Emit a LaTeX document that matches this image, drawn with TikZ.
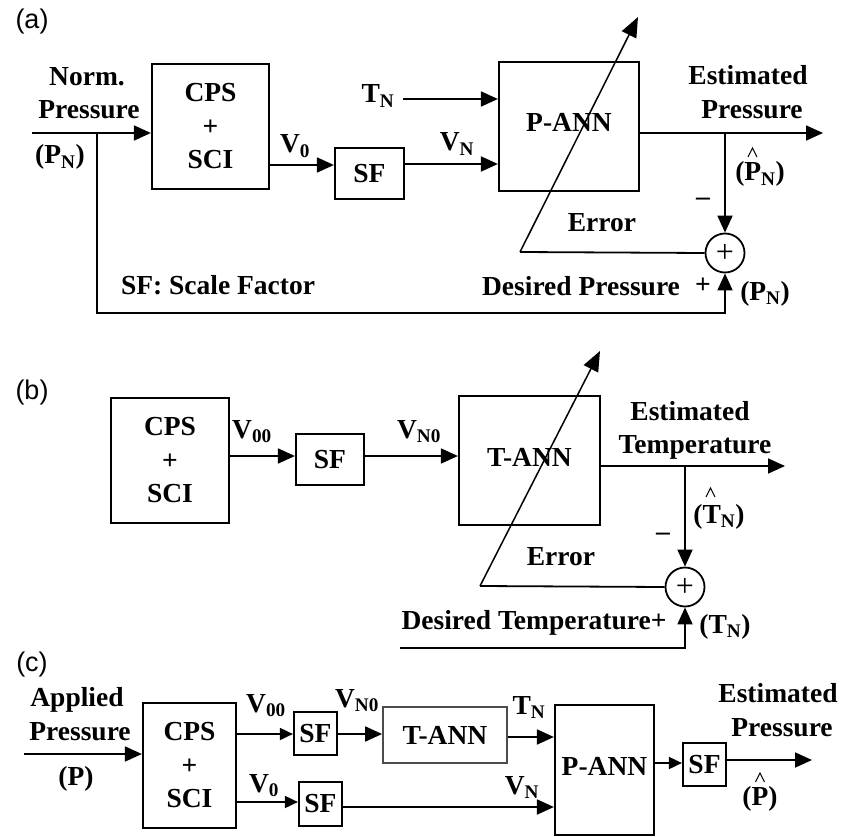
\documentclass[tikz,border=0pt]{standalone}
\usepackage{fontspec}
\setmainfont{Liberation Serif}
\newfontfamily\labfont{Liberation Sans}
\usetikzlibrary{arrows.meta}
\begin{document}
\begin{tikzpicture}[x=1pt,y=-1pt,
  font=\fontsize{27.5}{33.5}\selectfont\bfseries,
  blk/.style={draw,line width=2.2pt,inner sep=0pt,align=center},
  txt/.style={inner sep=0pt,text height=18pt,text depth=0pt},
  ln/.style={line width=1.8pt},
  arr/.style={ln,-{Triangle[length=17pt,width=15pt]}},
  sarr/.style={ln,-{Triangle[length=13pt,width=12pt]}},
  diag/.style={line width=1.5pt,-{Triangle[length=20pt,width=16pt]}},
  sumnode/.style={circle,draw,line width=1.8pt,minimum size=39pt,inner sep=0pt,font=\mdseries\fontsize{32}{32}\selectfont},
  hatline/.style={line width=1pt,line join=miter},
  plab/.style={inner sep=0pt,font=\fontsize{27}{27}\selectfont\labfont}
]
\useasboundingbox (0,0) rectangle (843,837);

% ---------------- (a) ----------------
\node[plab] (la) at (32,22) {(a)};
\node[blk,minimum width=117pt,minimum height=125pt] (cpsa) at (210.5,126.5) {CPS\\+\\SCI};
\node[blk,minimum width=69pt,minimum height=51pt] (sfa) at (369.5,173.5) {SF};
\node[blk,minimum width=140pt,minimum height=129pt] (panna) at (569,126.5) {\raisebox{8pt}{P-ANN}};
\node[sumnode] (suma) at (725,253) {+};

\coordinate (ina) at (32,133);
\coordinate (fba) at (97,133);
\coordinate (fbb) at (97,313);
\coordinate (tna) at (403,99);
\coordinate (outa) at (823,133);
\coordinate (jna) at (725,133);
\coordinate (erra) at (520,252);
\coordinate (tipa) at (638,17);

\draw[arr] (ina) -- (ina -| cpsa.west);
\draw[arr] (cpsa.east |- 0,165) -- (sfa.west |- 0,165);
\draw[arr] (sfa.east |- 0,164) -- (panna.west |- 0,164);
\draw[arr] (tna) -- (tna -| panna.west);
\draw[arr] (panna.east |- outa) -- (outa);
\draw[arr] (jna) -- (suma.north);
\draw[ln] (suma.west) -- (erra);
\draw[diag] (erra) -- (tipa);
\draw[arr] (fba) -- (fbb) -- (fbb -| suma.south) -- (suma.south);

\node[txt] (ta1) at (87,77) {Norm.};
\node[txt] (ta2) at (89,110) {Pressure};
\node[txt] (ta3) at (60,155) {(P\textsubscript{N})};
\node[txt] (ta4) at (295,144) {V\textsubscript{0}};
\node[txt] (ta5) at (378,94) {T\textsubscript{N}};
\node[txt] (ta6) at (457,142) {V\textsubscript{N}};
\node[txt] (ta7) at (748,76) {Estimated};
\node[txt] (ta8) at (752,110) {Pressure};
\node[txt] (ta9) at (760,172) {(P\textsubscript{N})};
\draw[hatline] (748,157) -- (752.5,148) -- (757,157);
\node[inner sep=0pt] (ta10) at (703,202) {\textendash};
\node[txt] (ta11) at (602,222) {Error};
\node[txt] (ta12) at (581,286.5) {Desired Pressure};
\node[inner sep=0pt] (ta13) at (703,286) {+};
\node[txt] (ta14) at (765,291) {(P\textsubscript{N})};
\node[txt] (ta15) at (218,285) {SF: Scale Factor};

% ---------------- (b) ----------------
\node[plab] (lb) at (32,393) {(b)};
\node[blk,minimum width=118pt,minimum height=125pt] (cpsb) at (170,460.5) {CPS\\+\\SCI};
\node[blk,minimum width=68pt,minimum height=51pt] (sfb) at (330,459.5) {SF};
\node[blk,minimum width=141pt,minimum height=129pt] (tannb) at (529.5,460.5) {\raisebox{7pt}{T-ANN}};
\node[sumnode] (sumb) at (685,587) {+};

\coordinate (outb) at (785,466);
\coordinate (jnb) at (685,466);
\coordinate (errb) at (480,586);
\coordinate (tipb) at (600,351);
\coordinate (fbs) at (400,648);

\draw[arr] (cpsb.east |- 0,456) -- (sfb.west |- 0,456);
\draw[arr] (sfb.east |- 0,456) -- (tannb.west |- 0,456);
\draw[arr] (tannb.east |- outb) -- (outb);
\draw[arr] (jnb) -- (sumb.north);
\draw[ln] (sumb.west) -- (errb);
\draw[diag] (errb) -- (tipb);
\draw[arr] (fbs) -- (fbs -| sumb.south) -- (sumb.south);

\node[txt] (tb1) at (252,429) {V\textsubscript{00}};
\node[txt] (tb2) at (419,429) {V\textsubscript{N0}};
\node[txt] (tb3) at (690,411) {Estimated};
\node[txt] (tb4) at (695,444) {Temperature};
\node[txt] (tb5) at (719,514) {(T\textsubscript{N})};
\draw[hatline] (706,497) -- (710.5,488) -- (715,497);
\node[inner sep=0pt] (tb6) at (663,537) {\textendash};
\node[txt] (tb7) at (561,556) {Error};
\node[txt] (tb8) at (534,620) {Desired Temperature+};
\node[txt] (tb9) at (725,624) {(T\textsubscript{N})};

% ---------------- (c) ----------------
\node[plab] (lc) at (32,665) {(c)};
\node[blk,minimum width=93pt,minimum height=125pt] (cpsc) at (189.5,765.5) {CPS\\+\\SCI};
\node[blk,minimum width=43pt,minimum height=43pt] (sfc1) at (315.5,733.5) {SF};
\node[blk,minimum width=43pt,minimum height=44pt] (sfc2) at (320.5,804) {SF};
\node[blk,draw=black!70,line width=1.8pt,minimum width=124pt,minimum height=56pt] (tannc) at (445,735) {T-ANN};
\node[blk,minimum width=99pt,minimum height=130pt] (pannc) at (604.5,770) {\raisebox{7pt}{P-ANN}};
\node[blk,minimum width=43pt,minimum height=43pt] (sfc3) at (704.5,764.5) {SF};

\coordinate (inc) at (24,754);
\coordinate (outc) at (812,760);

\draw[arr] (inc) -- (inc -| cpsc.west);
\draw[sarr] (cpsc.east |- 0,734) -- (sfc1.west |- 0,734);
\draw[arr] (sfc1.east |- 0,734) -- (tannc.west |- 0,734);
\draw[sarr] (cpsc.east |- 0,802) -- (sfc2.west |- 0,802);
\draw[arr] (sfc2.east |- 0,807) -- (pannc.west |- 0,807);
\draw[arr] (tannc.east |- 0,737) -- (pannc.west |- 0,737);
\draw[sarr] (pannc.east |- 0,763) -- (sfc3.west |- 0,763);
\draw[arr] (sfc3.east |- outc) -- (outc);

\node[txt] (tc1) at (77,697) {Applied};
\node[txt] (tc2) at (80,731) {Pressure};
\node[txt] (tc3) at (76,776) {(P)};
\node[txt] (tc4) at (266,703) {V\textsubscript{00}};
\node[txt] (tc5) at (357,698) {V\textsubscript{N0}};
\node[txt] (tc6) at (264,783) {V\textsubscript{0}};
\node[txt] (tc7) at (529,705) {T\textsubscript{N}};
\node[txt] (tc8) at (522,785) {V\textsubscript{N}};
\node[txt] (tc9) at (778,693) {Estimated};
\node[txt] (tc10) at (782,727) {Pressure};
\node[txt] (tc11) at (760,796) {(P)};
\draw[hatline] (755.5,782) -- (760,773) -- (764.5,782);
\end{tikzpicture}
\end{document}
